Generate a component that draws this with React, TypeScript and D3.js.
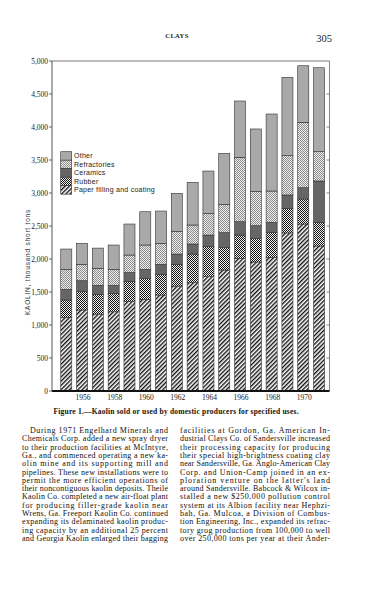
import React from "react";
import * as d3 from "d3";

const years = [1955, 1956, 1957, 1958, 1959, 1960, 1961, 1962, 1963, 1964, 1965, 1966, 1967, 1968, 1969, 1970, 1971];
const paper = [1116, 1227, 1165, 1200, 1353, 1389, 1454, 1590, 1641, 1732, 1833, 2010, 1955, 2025, 2395, 2530, 2197];
const rubber = [263, 277, 300, 280, 307, 318, 314, 329, 434, 454, 338, 353, 358, 374, 373, 379, 359];
const ceramics = [161, 167, 136, 120, 135, 136, 151, 156, 152, 177, 228, 202, 192, 157, 202, 171, 626];
const refractories = [303, 248, 258, 243, 265, 369, 318, 345, 288, 329, 429, 976, 520, 474, 595, 991, 444];
const other = [308, 318, 306, 369, 470, 504, 490, 574, 647, 641, 773, 853, 945, 1167, 1188, 857, 1272];
const yTicks = [0, 500, 1000, 1500, 2000, 2500, 3000, 3500, 4000, 4500, 5000];
const yearLabels = [1956, 1958, 1960, 1962, 1964, 1966, 1968, 1970];
const seriesNames = ["Paper filling and coating", "Rubber", "Ceramics", "Refractories", "Other"];
const seriesFills = ["url(#hatch)", "url(#checkDark)", "#666666", "url(#checkLight)", "#a9a9a9"];

const leftCol = [
  "During 1971 Engelhard Minerals and",
  "Chemicals Corp. added a new spray dryer",
  "to their production facilities at McIntyre,",
  "Ga., and commenced operating a new ka-",
  "olin mine and its supporting mill and",
  "pipelines. These new installations were to",
  "permit the more efficient operations of",
  "their noncontiguous kaolin deposits. Theile",
  "Kaolin Co. completed a new air-float plant",
  "for producing filler-grade kaolin near",
  "Wrens, Ga. Freeport Kaolin Co. continued",
  "expanding its delaminated kaolin produc-",
  "ing capacity by an additional 25 percent",
  "and Georgia Kaolin enlarged their bagging",
];
const rightCol = [
  "facilities at Gordon, Ga. American In-",
  "dustrial Clays Co. of Sandersville increased",
  "their processing capacity for producing",
  "their special high-brightness coating clay",
  "near Sandersville, Ga. Anglo-American Clay",
  "Corp. and Union-Camp joined in an ex-",
  "ploration venture on the latter's land",
  "around Sandersville. Babcock & Wilcox in-",
  "stalled a new $250,000 pollution control",
  "system at its Albion facility near Hephzi-",
  "bah, Ga. Mulcoa, a Division of Combus-",
  "tion Engineering, Inc., expanded its refrac-",
  "tory grog production from 100,000 to well",
  "over 250,000 tons per year at their Ander-",
];

export default function App() {
  const left = 52;
  const right = 329.5;
  const top = 61;
  const bottom = 391;
  const x = d3.scaleBand<number>().domain(years).range([56, 329.3]).paddingInner(0.3).paddingOuter(0.3);
  const y = d3.scaleLinear().domain([0, 5000]).range([bottom, top]);
  const rows = years.map((yr, i) => ({
    year: yr,
    Paper: paper[i],
    Rubber: rubber[i],
    Ceramics: ceramics[i],
    Refractories: refractories[i],
    Other: other[i],
  }));
  const keys = ["Paper", "Rubber", "Ceramics", "Refractories", "Other"];
  const stack = d3.stack<any>().keys(keys)(rows);
  const serif = "'Liberation Serif', 'DejaVu Serif', serif";
  const sans = "'Liberation Sans', Arial, sans-serif";
  const legendItems = seriesNames.map((n, i) => ({ name: n, fill: seriesFills[i] })).reverse();
  const lineH = 8.3;
  return (
    <svg width={380} height={600} style={{ position: "absolute", left: 0, top: 0, background: "#fff" }}>
      <defs>
        <pattern id="hatch" patternUnits="userSpaceOnUse" width={3} height={3} patternTransform="rotate(45)">
          <rect width={3} height={3} fill="#fff" />
          <rect x={0} y={0} width={1.4} height={3} fill="#111" />
        </pattern>
        <pattern id="checkDark" patternUnits="userSpaceOnUse" width={2} height={2}>
          <rect width={2} height={2} fill="#f4f4f4" />
          <rect x={0} y={0} width={1} height={1} fill="#111" />
          <rect x={1} y={1} width={1} height={1} fill="#111" />
        </pattern>
        <pattern id="checkLight" patternUnits="userSpaceOnUse" width={2} height={2}>
          <rect width={2} height={2} fill="#f0f0f0" />
          <rect x={0} y={0} width={1} height={1} fill="#8a8a8a" />
          <rect x={1} y={1} width={1} height={1} fill="#8a8a8a" />
        </pattern>
      </defs>

      <text x={177} y={37.5} textAnchor="middle" fontFamily={serif} fontWeight="bold" fontSize={6.5} letterSpacing={0.4} fill="#222">CLAYS</text>
      <text x={332} y={41.5} textAnchor="end" fontFamily={serif} fontSize={10.5} fill="#222">305</text>

      {/* frame */}
      <line x1={left} x2={right} y1={top} y2={top} stroke="#555" strokeWidth={0.8} />
      <line x1={left} x2={left} y1={top} y2={bottom} stroke="#444" strokeWidth={0.9} />
      <line x1={right} x2={right} y1={top} y2={bottom} stroke="#666" strokeWidth={0.8} />
      {yTicks.map((t) => (
        <g key={t}>
          <line x1={left - 3} x2={left} y1={y(t)} y2={y(t)} stroke="#444" strokeWidth={0.8} />
          {t > 0 && t < 5000 && <line x1={right - 3} x2={right} y1={y(t)} y2={y(t)} stroke="#666" strokeWidth={0.8} />}
          <text x={48} y={y(t) + 2.5} textAnchor="end" fontFamily={serif} fontSize={7.5} fill="#222">
            {d3.format(",")(t)}
          </text>
        </g>
      ))}
      <text
        transform={`translate(30,262) rotate(-90)`}
        textAnchor="middle"
        fontFamily={sans}
        fontSize={6.5}
        letterSpacing={0.8}
        fill="#333"
      >
        KAOLIN, thousand short tons
      </text>

      {/* bars */}
      {stack.map((layer, li) => (
        <g key={keys[li]}>
          {layer.map((d, i) => (
            <rect
              key={i}
              x={x(years[i])}
              width={x.bandwidth()}
              y={y(d[1])}
              height={y(d[0]) - y(d[1])}
              fill={seriesFills[li]}
              stroke="#333"
              strokeWidth={0.6}
            />
          ))}
        </g>
      ))}
      <line x1={left} x2={right} y1={bottom} y2={bottom} stroke="#111" strokeWidth={2} />
      {yearLabels.map((yr) => (
        <text key={yr} x={(x(yr) as number) + x.bandwidth() / 2 + 1} y={399.5} textAnchor="middle" fontFamily={serif} fontSize={7.5} fill="#222">
          {yr}
        </text>
      ))}

      {/* legend */}
      {legendItems.map((it, i) => (
        <g key={it.name}>
          <rect x={60.7} y={151.7 + i * 8.5} width={11} height={8.5} fill={it.fill} stroke="#333" strokeWidth={0.6} />
          <text x={74} y={151.7 + i * 8.5 + 6.6} fontFamily={sans} fontSize={7} letterSpacing={0.25} fill="#222">{it.name}</text>
        </g>
      ))}

      <text x={176} y={413.5} textAnchor="middle" fontFamily={serif} fontWeight="bold" fontSize={7.5} textLength={245} lengthAdjust="spacing" fill="#111">
        Figure 1.—Kaolin sold or used by domestic producers for specified uses.
      </text>

      {leftCol.map((l, i) => (
        <text key={"l" + i} x={i === 0 ? 30 : 22} y={433 + i * lineH} fontFamily={serif} fontSize={8} textLength={i === 0 ? 138 : 146} lengthAdjust="spacing" fill="#111">
          {l}
        </text>
      ))}
      {rightCol.map((l, i) => (
        <text key={"r" + i} x={180} y={433 + i * lineH} fontFamily={serif} fontSize={8} textLength={150} lengthAdjust="spacing" fill="#111">
          {l}
        </text>
      ))}
    </svg>
  );
}
